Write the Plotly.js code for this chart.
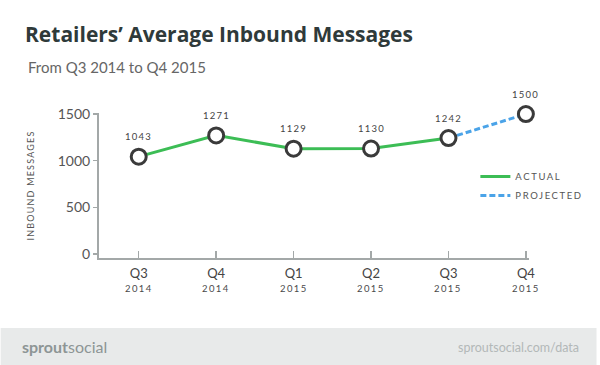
<!DOCTYPE html>
<html>
<head>
<meta charset="utf-8">
<script src="https://cdn.plot.ly/plotly-3.0.1.min.js"></script>
<style>html,body{margin:0;padding:0;background:#fff;}#chart{width:600px;height:365px;}</style>
</head>
<body>
<div id="chart"></div>
<script>
// ---- data ----
const quarters = ["Q3", "Q4", "Q1", "Q2", "Q3", "Q4"];
const years = ["2014", "2014", "2015", "2015", "2015", "2015"];
const actualIdx = [0, 1, 2, 3, 4];
const actualValues = [1043, 1271, 1129, 1130, 1242];
const projectedIdx = [4, 5];
const projectedValues = [1242, 1500];
const allValues = [1043, 1271, 1129, 1130, 1242, 1500];
const yTicks = [0, 500, 1000, 1500];

// ---- layout helpers (pixel -> paper) ----
const L = 99, R = 532, T = 113, B = 258, W = R - L, H = B - T;
const px2x = p => (p - L) / W;
const py2y = p => (B - p) / H;

const FONT = "Lato, 'Open Sans', sans-serif";
const ls = (t, s) => `<span style="letter-spacing:${s}px">${t}</span>`;

const idx = quarters.map((_, i) => i);

const traces = [
  {
    x: actualIdx, y: actualValues, name: ls("ACTUAL", 1.6), mode: "lines",
    line: {color: "#3cbd55", width: 3}, cliponaxis: false, hoverinfo: "skip"
  },
  {
    x: projectedIdx, y: projectedValues, name: ls("PROJECTED", 1.6), mode: "lines",
    line: {color: "#4aa3e8", width: 3, dash: "6px,3px"}, cliponaxis: false, hoverinfo: "skip"
  },
  {
    x: idx, y: allValues, mode: "markers", showlegend: false, cliponaxis: false,
    marker: {size: 15, color: "#ffffff", line: {color: "#3a3a3a", width: 3}}, hoverinfo: "skip"
  }
];

const annotations = allValues.map((v, i) => ({
  x: i, y: v, xref: "x", yref: "y", text: ls(String(v), 1.2), showarrow: false,
  yshift: 20, font: {family: FONT, size: 9.5, color: "#444"}
}));

years.forEach((yr, i) => annotations.push({
  x: i, xref: "x", yref: "paper", y: py2y(288), yanchor: "middle",
  text: ls(yr, 1.4), showarrow: false,
  font: {family: FONT, size: 9.5, color: "#4a4a4a"}
}));

annotations.push({
  xref: "paper", yref: "paper", x: px2x(25), y: py2y(67), xanchor: "left", yanchor: "middle",
  text: "From Q3 2014 to Q4 2015", showarrow: false,
  font: {family: FONT, size: 15, color: "#666"}
});
annotations.push({
  xref: "paper", yref: "paper", x: px2x(19), y: py2y(346), xanchor: "left", yanchor: "middle",
  text: "<b>sprout</b>social", showarrow: false,
  font: {family: FONT, size: 16, color: "#8d9595"}
});
annotations.push({
  xref: "paper", yref: "paper", x: px2x(584), y: py2y(347), xanchor: "right", yanchor: "middle",
  text: "sproutsocial.com/data", showarrow: false,
  font: {family: FONT, size: 12.5, color: "#b3b8b8"}
});

const layout = {
  width: 600, height: 365,
  margin: {l: L, r: 600 - R, t: T, b: 365 - B},
  paper_bgcolor: "#ffffff", plot_bgcolor: "rgba(0,0,0,0)",
  font: {family: FONT, color: "#444"},
  title: {
    text: "<b>Retailers’ Average Inbound Messages</b>",
    x: 25 / 600, xref: "container", xanchor: "left",
    y: 1 - 35 / 365, yref: "container", yanchor: "middle",
    font: {family: "'Open Sans', Lato, sans-serif", size: 21, color: "#2f3a3a"}
  },
  showlegend: true,
  legend: {
    x: px2x(478), y: py2y(162), xanchor: "left", yanchor: "top",
    bgcolor: "rgba(0,0,0,0)", borderwidth: 0, tracegroupgap: 0,
    font: {family: FONT, size: 9.5, color: "#555"}
  },
  xaxis: {
    range: [-0.513, 5.04], tickmode: "array", tickvals: idx, ticktext: quarters,
    ticks: "inside", ticklen: 7, tickwidth: 1.5, tickcolor: "#a3a8a8",
    showline: true, linecolor: "#a3a8a8", linewidth: 2,
    showgrid: false, zeroline: false, fixedrange: true, ticklabelstandoff: 2,
    tickfont: {family: FONT, size: 13, color: "#444"}
  },
  yaxis: {
    range: [-43, 1511], tickmode: "array", tickvals: yTicks,
    ticks: "outside", ticklen: 4, tickwidth: 1.5, tickcolor: "#a3a8a8",
    showline: true, linecolor: "#a3a8a8", linewidth: 2,
    showgrid: false, zeroline: false, fixedrange: true,
    tickfont: {family: FONT, size: 14, color: "#555"},
    title: {text: ls("INBOUND MESSAGES", 1.2), standoff: 22, font: {family: FONT, size: 9, color: "#555"}}
  },
  shapes: [{
    type: "rect", xref: "paper", yref: "paper", layer: "below",
    x0: px2x(0), x1: px2x(600), y0: py2y(366), y1: py2y(328),
    fillcolor: "#e8eaea", line: {width: 0}
  }],
  annotations: annotations
};

Plotly.newPlot("chart", traces, layout, {displayModeBar: false, staticPlot: true});
</script>
</body>
</html>
